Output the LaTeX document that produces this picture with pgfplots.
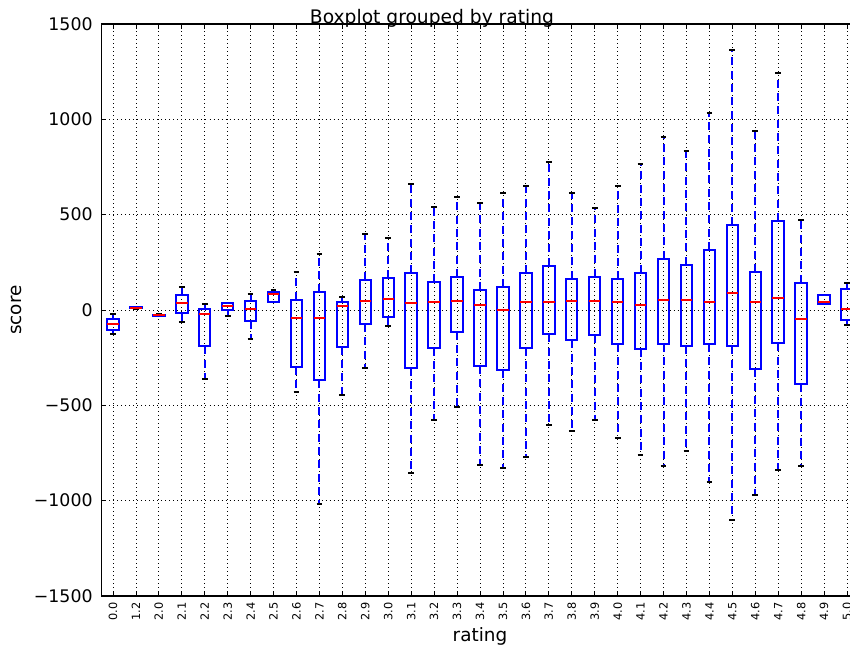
\documentclass[border=0pt]{standalone}
\usepackage{fontspec}
\setmainfont{DejaVu Sans}
\usepackage{pgfplots}
\pgfplotsset{compat=1.18}
\pgfplotsset{
  wh/.style={draw=blue, line width=1.5pt, dash pattern=on 6pt off 4pt, mark=none, forget plot},
  capst/.style={draw=black, solid, line width=1.5pt, mark=none, forget plot},
  bxs/.style={draw=blue, solid, line width=1.5pt, line join=miter, mark=none, forget plot},
  med/.style={draw=red, solid, line width=1.5pt, mark=none, forget plot},
}
% #1 position, #2 lower whisker, #3 lower quartile, #4 median, #5 upper quartile, #6 upper whisker
\newcommand{\bx}[6]{%
  \pgfmathsetmacro\xl{#1-0.25}%
  \pgfmathsetmacro\xr{#1+0.25}%
  \pgfmathsetmacro\capl{#1-0.125}%
  \pgfmathsetmacro\capr{#1+0.125}%
  \addplot[wh] coordinates {(#1,#3) (#1,#2)};
  \addplot[wh] coordinates {(#1,#5) (#1,#6)};
  \addplot[capst] coordinates {(\capl,#2) (\capr,#2)};
  \addplot[capst] coordinates {(\capl,#6) (\capr,#6)};
  \addplot[bxs] coordinates {(\xl,#3) (\xr,#3) (\xr,#5) (\xl,#5) (\xl,#3) (\xr,#3)};
  \addplot[med] coordinates {(\xl,#4) (\xr,#4)};
}
\begin{document}
\begin{tikzpicture}
\useasboundingbox (0,0) rectangle (637.5pt,483.75pt);
\clip (0,0) rectangle (637.5pt,483.75pt);
\begin{axis}[
  at={(76.125pt,36.75pt)}, anchor=south west,
  scale only axis, width=567.75pt, height=429pt,
  xmin=0.5, xmax=33.5, ymin=-1500, ymax=1500,
  xtick={1,...,33},
  xticklabels={0.0,1.2,2.0,2.1,2.2,2.3,2.4,2.5,2.6,2.7,2.8,2.9,3.0,3.1,3.2,3.3,3.4,3.5,3.6,3.7,3.8,3.9,4.0,4.1,4.2,4.3,4.4,4.5,4.6,4.7,4.8,4.9,5.0},
  ytick={-1500,-1000,-500,0,500,1000,1500},
  yticklabels={−1500,−1000,−500,0,500,1000,1500},
  xticklabel style={rotate=90, anchor=east, inner sep=0pt, font=\fontsize{8.5}{9}\selectfont},
  yticklabel style={anchor=east, inner sep=0pt, font=\fontsize{13}{15}\selectfont},
  xticklabel shift=4.5pt, yticklabel shift=6.5pt,
  tick align=inside, major tick length=3.5pt,
  tick style={black, line width=0.6pt},
  axis line style={black, line width=0.8pt},
  grid=major,
  major grid style={black, line width=0.6pt, dash pattern=on 0.75pt off 2.25pt},
  xlabel={rating}, ylabel={score},
  every axis x label/.style={at={(axis description cs:0.5,-0.0699)}, anchor=center, font=\fontsize{13.8}{16}\selectfont},
  every axis y label/.style={at={(axis description cs:-0.1123,0.5)}, anchor=center, rotate=90, font=\fontsize{13.8}{16}\selectfont},
]
\bx{1}{-127}{-103}{-72}{-45}{-19}
\bx{2}{6}{8}{12}{15}{17}
\bx{3}{-32}{-30}{-28}{-25}{-23}
\bx{4}{-65}{-14}{39}{80}{122}
\bx{5}{-360}{-190}{-21}{5}{30}
\bx{6}{-31}{0}{21}{37}{38}
\bx{7}{-154}{-57}{7}{49}{82}
\bx{8}{40}{40}{82}{93}{103}
\bx{9}{-430}{-299}{-44}{54}{198}
\bx{10}{-1017}{-369}{-44}{93}{295}
\bx{11}{-448}{-193}{19}{42}{66}
\bx{12}{-304}{-73}{47}{159}{399}
\bx{13}{-86}{-37}{56}{170}{378}
\bx{14}{-855}{-304}{38}{192}{661}
\bx{15}{-575}{-198}{40}{145}{538}
\bx{16}{-509}{-113}{47}{173}{594}
\bx{17}{-815}{-294}{28}{105}{559}
\bx{18}{-829}{-316}{2}{121}{614}
\bx{19}{-773}{-198}{40}{192}{652}
\bx{20}{-601}{-128}{40}{232}{778}
\bx{21}{-633}{-159}{45}{164}{614}
\bx{22}{-579}{-131}{47}{175}{535}
\bx{23}{-673}{-178}{40}{161}{648}
\bx{24}{-760}{-203}{28}{196}{766}
\bx{25}{-818}{-178}{52}{269}{909}
\bx{26}{-738}{-187}{52}{238}{836}
\bx{27}{-900}{-178}{42}{315}{1031}
\bx{28}{-1103}{-191}{91}{444}{1362}
\bx{29}{-970}{-311}{42}{199}{940}
\bx{30}{-837}{-175}{61}{467}{1243}
\bx{31}{-820}{-390}{-47}{143}{470}
\bx{32}{31}{31}{42}{79}{79}
\bx{33}{-80}{-51}{5}{108}{142}
\end{axis}
\node[font=\fontsize{14}{16}\selectfont] at (324pt,470.25pt) {Boxplot grouped by rating};
\end{tikzpicture}
\end{document}
